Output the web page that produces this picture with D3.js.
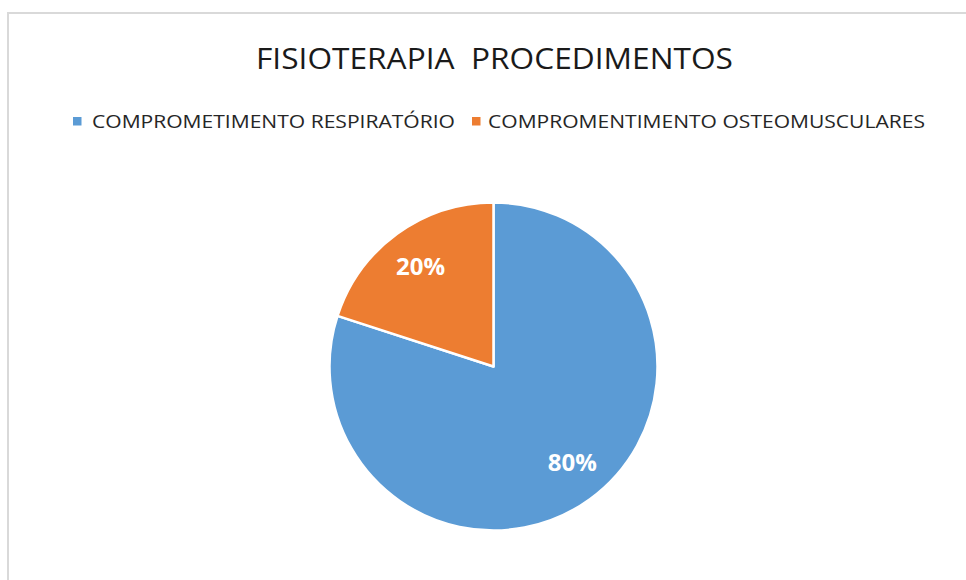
<!DOCTYPE html>
<html>
<head>
<meta charset="utf-8">
<script src="https://cdn.jsdelivr.net/npm/d3@7/dist/d3.min.js"></script>
<style>
  html, body { margin: 0; padding: 0; background: #fff; }
  svg { display: block; }
</style>
</head>
<body>
<svg id="chart" width="966" height="580"></svg>
<script>
const title = "FISIOTERAPIA  PROCEDIMENTOS";
const categories = ["COMPROMETIMENTO RESPIRATÓRIO", "COMPROMENTIMENTO OSTEOMUSCULARES"];
const values = [80, 20];
const labels = ["80%", "20%"];
const colors = ["#5B9BD5", "#ED7D31"];

const svg = d3.select("#chart");
const W = 966, H = 580;
const font = "'Open Sans', 'Noto Sans', sans-serif";

// chart border
svg.append("rect")
  .attr("x", 8).attr("y", 13)
  .attr("width", W + 20).attr("height", H + 20)
  .attr("fill", "#fff")
  .attr("stroke", "#D9D9D9").attr("stroke-width", 2);

// title
svg.append("text")
  .attr("x", 494.5).attr("y", 69)
  .attr("text-anchor", "middle")
  .attr("font-family", font)
  .attr("font-size", 29)
  .attr("fill", "#1a1a1a")
  .attr("textLength", 477)
  .attr("lengthAdjust", "spacingAndGlyphs")
  .style("white-space", "pre")
  .text(title);

// legend
const legendItems = [
  { sq: 73, tx: 92, tl: 363 },
  { sq: 472, tx: 488, tl: 437 }
];
const leg = svg.append("g");
categories.forEach((c, i) => {
  leg.append("rect")
    .attr("x", legendItems[i].sq).attr("y", 117)
    .attr("width", 8.5).attr("height", 8.5)
    .attr("fill", colors[i]);
  leg.append("text")
    .attr("x", legendItems[i].tx).attr("y", 127.5)
    .attr("font-family", font)
    .attr("font-size", 19)
    .attr("fill", "#262626")
    .attr("textLength", legendItems[i].tl)
    .attr("lengthAdjust", "spacingAndGlyphs")
    .text(c);
});

// pie
const cx = 493.5, cy = 366.5, R = 164;
const pie = d3.pie().sort(null).value(d => d)(values);
const arc = d3.arc().innerRadius(0).outerRadius(R);
const labelArc = d3.arc().innerRadius(124).outerRadius(124);

const g = svg.append("g").attr("transform", `translate(${cx},${cy})`);
g.selectAll("path.slice")
  .data(pie)
  .join("path")
  .attr("class", "slice")
  .attr("d", arc)
  .attr("fill", (d, i) => colors[i])
  .attr("stroke", "#fff")
  .attr("stroke-width", 2.5)
  .attr("stroke-linejoin", "round");

g.selectAll("text.lbl")
  .data(pie)
  .join("text")
  .attr("class", "lbl")
  .attr("transform", (d, i) => {
    const [x, y] = labelArc.centroid(d);
    const off = i === 0 ? [6, -4] : [0, 0];
    return `translate(${x + off[0]},${y + off[1]})`;
  })
  .attr("text-anchor", "middle")
  .attr("dy", "0.36em")
  .attr("font-family", font)
  .attr("font-weight", "bold")
  .attr("font-size", 24)
  .attr("fill", "#fff")
  .text((d, i) => labels[i]);
</script>
</body>
</html>
